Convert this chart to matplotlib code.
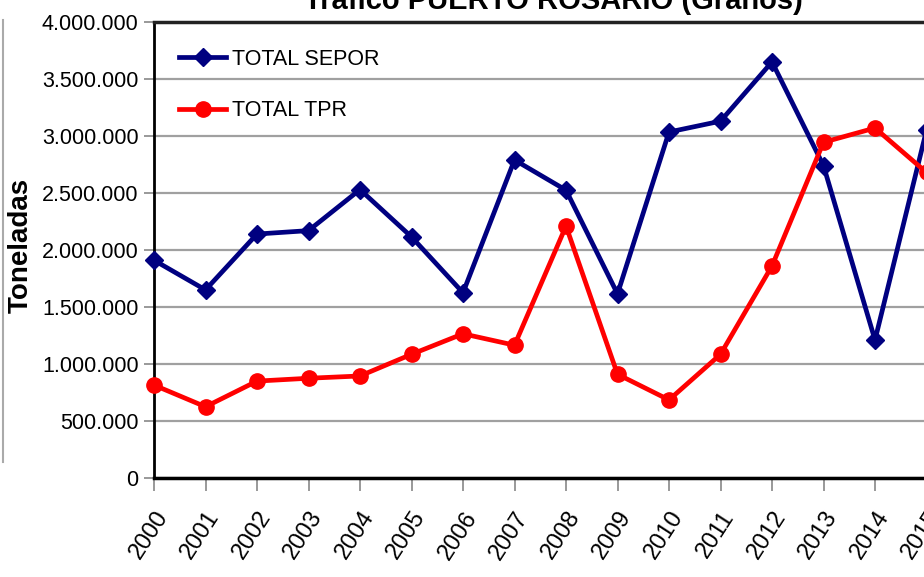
import matplotlib
matplotlib.use("Agg")
import matplotlib.pyplot as plt
from matplotlib.ticker import FuncFormatter, MultipleLocator
from matplotlib.lines import Line2D

years = list(range(2000, 2016))
sepor = [1910000, 1650000, 2140000, 2170000, 2530000, 2115000, 1625000, 2790000,
         2525000, 1615000, 3035000, 3130000, 3650000, 2740000, 1210000, 3050000]
tpr = [815000, 625000, 850000, 875000, 895000, 1085000, 1265000, 1165000,
       2210000, 910000, 685000, 1085000, 1860000, 2945000, 3070000, 2680000]
year_labels = [str(y) for y in years]

plt.rcParams['font.family'] = ['Liberation Sans', 'DejaVu Sans']

fig = plt.figure(figsize=(9.24, 5.77), dpi=100)
W, H = 924, 577
left, right, top, bottom = 154, 154 + 16 * 51.5, 22, 478
ax = fig.add_axes([left / W, 1 - bottom / H, (right - left) / W, (bottom - top) / H])

ax.plot(years, sepor, color='#000080', lw=3.4, marker='D', ms=9, label='TOTAL SEPOR', clip_on=False, zorder=3)
ax.plot(years, tpr, color='#ff0000', lw=3.4, marker='o', ms=11, label='TOTAL TPR', clip_on=False, zorder=3)

ax.set_xlim(2000, 2016)
ax.set_ylim(0, 4000000)
ax.yaxis.set_major_locator(MultipleLocator(500000))
ax.yaxis.set_major_formatter(FuncFormatter(lambda v, p: f"{int(v):,}".replace(",", ".")))
ax.set_xticks(years)
ax.set_xticklabels(year_labels, rotation=57, ha='right', rotation_mode='anchor', fontsize=17)
ax.tick_params(axis='y', labelsize=15.5, length=7, color='#888888', width=1.2, pad=4)
ax.tick_params(axis='x', length=9, color='#888888', width=1.2, pad=12)

ax.grid(axis='y', color='#a0a0a0', lw=1.6)
ax.set_axisbelow(True)
ax.spines['right'].set_visible(False)
ax.spines['top'].set_linewidth(2.5)
ax.spines['top'].set_color('#222222')
ax.spines['bottom'].set_linewidth(2.5)
ax.spines['left'].set_linewidth(2)

fig.text(21 / W, 1 - 245 / H, 'Toneladas', rotation=90, ha='center', va='center',
         fontsize=20, fontweight='bold')

leg = ax.legend(loc='upper left', bbox_to_anchor=(25 / (right - left), 1 - 27 / (bottom - top)),
                frameon=False, fontsize=15.5,
                handlelength=2.2, handletextpad=0.25, labelspacing=1.4, borderaxespad=0,
                borderpad=0)

fig.text(553 / W, 1 - 9 / H, 'Tráfico PUERTO ROSARIO (Granos)', ha='center', va='baseline',
         fontsize=21, fontweight='bold')
fig.add_artist(Line2D([2.5 / W, 2.5 / W], [1 - 20 / H, 1 - 462 / H], color='#aaaaaa', lw=1.5))

fig.savefig('out.png', dpi=100)
